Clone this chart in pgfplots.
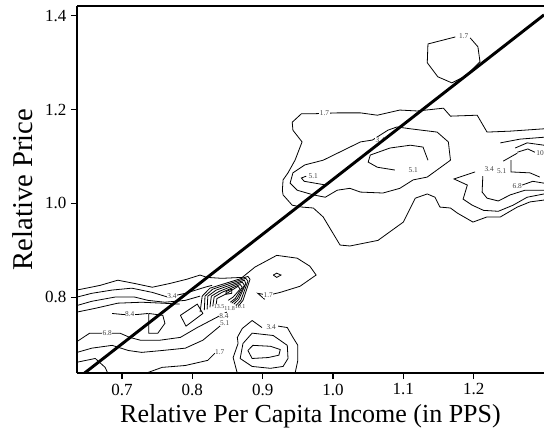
\documentclass[border=0pt]{standalone}
\usepackage{pgfplots}
\pgfplotsset{compat=1.18}
\usepackage{fontspec}
\setmainfont{Liberation Serif}
\usetikzlibrary{calc}

\begin{document}
\begin{tikzpicture}
\tikzset{
  cl/.style={black, line width=0.6pt},
  lab/.style={font=\fontsize{5.5}{5.5}\selectfont, fill=white, inner sep=0.4pt, text=black!75},
}
\begin{axis}[
    scale only axis,
    width=350.25pt, height=275.25pt,
    xmin=0.636, xmax=1.300,
    ymin=0.638, ymax=1.421,
    axis x line*=box, axis y line*=left,
    xtick={0.7,0.8,0.9,1.0,1.1,1.2},
    ytick={0.8,1.0,1.2,1.4},
    xtick pos=left, ytick pos=left,
    tick align=outside,
    major tick length=4.5pt,
    minor tick num=0,
    /pgf/number format/assume math mode=true,
    /pgf/number format/.cd, fixed, fixed zerofill, precision=1, /pgfplots/.cd,
    tick label style={font=\fontsize{12.75}{13}\selectfont},
    xlabel style={font=\fontsize{19.5}{20}\selectfont},
    ylabel style={font=\fontsize{21.5}{22}\selectfont, yshift=2pt},
    xlabel={Relative Per Capita Income (in PPS)},
    ylabel={Relative Price},
    axis line style={black, line width=1pt},
    every tick/.style={black, line width=0.8pt},
]
\coordinate (SW) at (rel axis cs:0,0);
\coordinate (NE) at (rel axis cs:1,1);

% central 1.7 contour
\addplot[cl] coordinates {(1.300,1.159) (1.252,1.154) (1.219,1.152) (1.205,1.188) (1.167,1.186) (1.157,1.203) (1.120,1.197) (1.095,1.199) (1.063,1.188) (1.039,1.193) (1.007,1.193) (0.970,1.191) (0.955,1.191) (0.942,1.173) (0.943,1.156) (0.956,1.131) (0.946,1.092) (0.936,1.065) (0.929,1.050) (0.928,1.028) (0.929,1.018) (0.942,0.996) (0.956,0.992) (0.972,0.990) (0.986,0.971) (1.010,0.911) (1.024,0.909) (1.064,0.921) (1.100,0.960) (1.117,1.011) (1.134,1.020) (1.145,1.013) (1.152,0.992) (1.167,0.990) (1.177,0.979) (1.199,0.960) (1.219,0.971) (1.238,0.971) (1.262,0.992) (1.280,1.003) (1.300,1.007)};
% central 3.4 contour
\addplot[cl] coordinates {(1.039,1.131) (0.986,1.092) (0.960,1.082) (0.943,1.065) (0.939,1.043) (0.949,1.028) (0.972,1.018) (0.989,1.013) (1.006,1.028) (1.024,1.032) (1.039,1.024) (1.071,1.022) (1.095,1.032) (1.114,1.050) (1.134,1.056) (1.167,1.092) (1.164,1.131) (1.148,1.152) (1.110,1.159) (1.091,1.163) (1.078,1.156) (1.056,1.135) (1.039,1.131)};
% central 5.1 contours
\addplot[cl] coordinates {(1.135,1.092) (1.128,1.120) (1.110,1.124) (1.081,1.118) (1.053,1.103) (1.050,1.088) (1.063,1.077) (1.088,1.071)};
\addplot[cl] coordinates {(0.962,1.058) (0.955,1.054) (0.959,1.047) (0.990,1.039)};
% top 1.7 contour
\addplot[cl] coordinates {(1.174,1.355) (1.135,1.340) (1.134,1.300) (1.149,1.270) (1.169,1.257) (1.189,1.272) (1.209,1.302) (1.206,1.334) (1.195,1.353)};

% right cluster
\addplot[cl] coordinates {(1.238,1.129) (1.266,1.137) (1.300,1.141)};
\addplot[cl] coordinates {(1.259,1.118) (1.276,1.129) (1.300,1.124)};
\addplot[cl] coordinates {(1.262,1.109) (1.277,1.116) (1.287,1.109)};
\addplot[cl] coordinates {(1.242,1.090) (1.262,1.107)};
\addplot[cl] coordinates {(1.253,1.092) (1.253,1.067) (1.280,1.065) (1.294,1.056)};
\addplot[cl] coordinates {(1.213,1.058) (1.212,1.024) (1.219,1.011) (1.235,1.005) (1.252,1.018) (1.273,1.028) (1.300,1.028)};
\addplot[cl] coordinates {(1.269,1.039) (1.284,1.047) (1.300,1.043)};
\addplot[cl] coordinates {(1.202,1.067) (1.172,1.052) (1.191,1.039) (1.185,1.009) (1.198,0.996) (1.214,0.985) (1.235,0.983) (1.256,0.996) (1.276,1.013) (1.300,1.020)};

% lower-left cluster
\addplot[cl] coordinates {(0.636,0.815) (0.669,0.825) (0.694,0.836) (0.718,0.829) (0.743,0.821) (0.768,0.829) (0.792,0.838) (0.811,0.847) (0.821,0.842) (0.842,0.840) (0.871,0.842) (0.889,0.864) (0.920,0.889) (0.949,0.883) (0.967,0.866) (0.976,0.847) (0.953,0.823) (0.925,0.810) (0.908,0.804) (0.893,0.808) (0.903,0.795)};
\addplot[cl] coordinates {(0.636,0.800) (0.657,0.808) (0.686,0.815) (0.714,0.819) (0.743,0.810) (0.765,0.800) (0.790,0.808) (0.818,0.821) (0.828,0.825)};
\addplot[cl] coordinates {(0.636,0.782) (0.657,0.791) (0.690,0.800) (0.718,0.800) (0.737,0.793) (0.761,0.789) (0.790,0.793) (0.811,0.802)};
\addplot[cl] coordinates {(0.636,0.768) (0.662,0.776) (0.694,0.787) (0.728,0.789) (0.757,0.787) (0.782,0.785)};
\addplot[cl] coordinates {(0.686,0.765) (0.700,0.763) (0.723,0.763) (0.737,0.765)};
\addplot[cl] coordinates {(0.738,0.765) (0.758,0.761) (0.761,0.744) (0.751,0.723) (0.738,0.723) (0.738,0.765)};
\addplot[cl] coordinates {(0.783,0.761) (0.807,0.785) (0.815,0.765) (0.791,0.738) (0.783,0.761)};
% nested chevrons
\addplot[cl] coordinates {(0.811,0.768) (0.814,0.802) (0.825,0.819) (0.879,0.844) (0.882,0.838) (0.872,0.793) (0.865,0.780)};
\addplot[cl] coordinates {(0.817,0.772) (0.818,0.802) (0.829,0.817) (0.876,0.840) (0.879,0.834) (0.869,0.793) (0.862,0.782)};
\addplot[cl] coordinates {(0.821,0.774) (0.822,0.802) (0.834,0.815) (0.874,0.836) (0.876,0.829) (0.866,0.795) (0.859,0.785)};
\addplot[cl] coordinates {(0.825,0.778) (0.827,0.802) (0.838,0.812) (0.871,0.832) (0.874,0.825) (0.864,0.797) (0.856,0.787)};
\addplot[cl] coordinates {(0.829,0.780) (0.831,0.800) (0.842,0.810) (0.868,0.827) (0.871,0.821) (0.861,0.797) (0.854,0.789)};
\addplot[cl] coordinates {(0.834,0.785) (0.835,0.797) (0.847,0.806) (0.865,0.823) (0.868,0.817) (0.858,0.800) (0.851,0.793)};
\addplot[cl] coordinates {(0.848,0.812) (0.856,0.817) (0.856,0.808) (0.848,0.806) (0.848,0.812)};
% lower bands
\addplot[cl] coordinates {(0.636,0.705) (0.654,0.723) (0.697,0.723) (0.711,0.714) (0.726,0.708) (0.754,0.708) (0.783,0.714) (0.807,0.735) (0.835,0.757) (0.849,0.768)};
\addplot[cl] coordinates {(0.636,0.682) (0.657,0.691) (0.686,0.697) (0.709,0.686) (0.728,0.682) (0.757,0.686) (0.790,0.691) (0.815,0.708) (0.844,0.744)};
\addplot[cl] coordinates {(0.636,0.661) (0.662,0.669) (0.676,0.650) (0.680,0.637)};
\addplot[cl] coordinates {(0.733,0.637) (0.757,0.650) (0.790,0.654) (0.822,0.665) (0.832,0.680)};
% lower middle
\addplot[cl] coordinates {(0.922,0.738) (0.935,0.735) (0.943,0.714) (0.950,0.697) (0.950,0.665) (0.946,0.637)};
\addplot[cl] coordinates {(0.899,0.735) (0.885,0.750) (0.871,0.733) (0.864,0.714) (0.865,0.701) (0.858,0.671) (0.864,0.637)};
\addplot[cl] coordinates {(0.872,0.701) (0.885,0.723) (0.915,0.718) (0.935,0.697) (0.936,0.669) (0.929,0.652) (0.911,0.648) (0.885,0.652) (0.868,0.669) (0.872,0.701)};
\addplot[cl] coordinates {(0.879,0.686) (0.886,0.697) (0.911,0.695) (0.925,0.688) (0.923,0.676) (0.908,0.671) (0.885,0.669) (0.879,0.686)};
\addplot[cl] coordinates {(0.915,0.847) (0.920,0.851) (0.926,0.847) (0.920,0.842) (0.915,0.847)};

% contour labels
\node[lab] at (axis cs:0.988,1.193) {1.7};
\node[lab] at (axis cs:1.186,1.356) {1.7};
\node[lab] at (axis cs:1.067,1.135) {3.4};
\node[lab] at (axis cs:0.972,1.058) {5.1};
\node[lab] at (axis cs:1.114,1.071) {5.1};
\node[lab] at (axis cs:1.222,1.073) {3.4};
\node[lab] at (axis cs:1.240,1.069) {5.1};
\node[lab,anchor=west] at (axis cs:1.288,1.107) {10.1};
\node[lab] at (axis cs:1.262,1.037) {6.8};
\node[lab] at (axis cs:0.771,0.802) {3.4};
\node[lab] at (axis cs:0.711,0.763) {8.4};
\node[lab] at (axis cs:0.679,0.723) {6.8};
\node[lab] at (axis cs:0.908,0.804) {1.7};
\node[lab] at (axis cs:0.912,0.735) {3.4};
\node[lab] at (axis cs:0.839,0.682) {1.7};
\node[lab] at (axis cs:0.845,0.759) {8.4};
\node[lab] at (axis cs:0.846,0.744) {5.1};
\node[lab,fill=none,font=\fontsize{4.5}{4.5}\selectfont] at (axis cs:0.838,0.779) {13.5};
\node[lab,fill=none,font=\fontsize{4.5}{4.5}\selectfont] at (axis cs:0.853,0.775) {11.8};
\node[lab,fill=none,font=\fontsize{4.5}{4.5}\selectfont] at (axis cs:0.868,0.779) {10.1};

% fitted line
\addplot[black, line width=2.2pt] coordinates {(0.640,0.630) (1.300,1.402)};
\end{axis}
\pgfresetboundingbox
\path ($(SW)+(-57.75pt,-51.75pt)$) rectangle ($(NE)+(0pt,4.5pt)$);
\end{tikzpicture}
\end{document}
